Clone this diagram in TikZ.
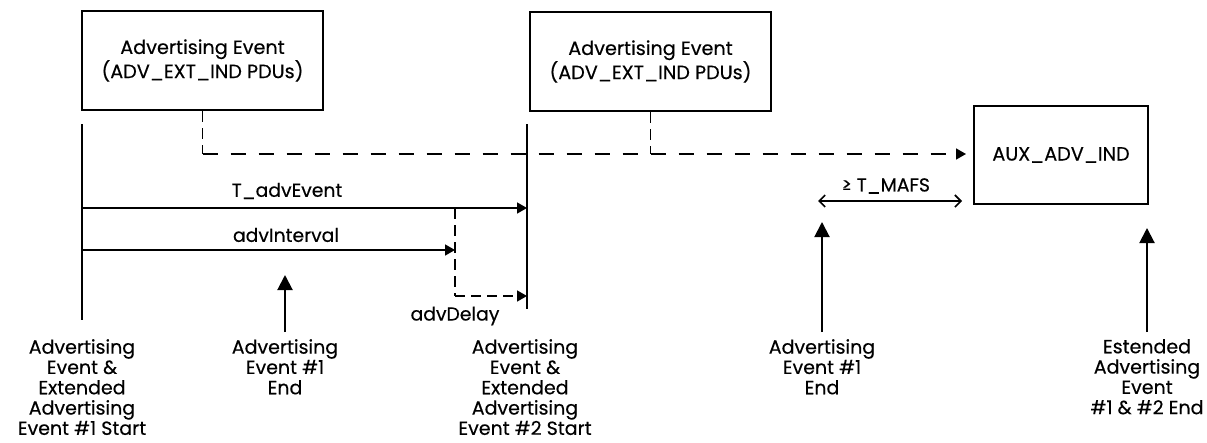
\documentclass[tikz,border=0pt]{standalone}
\usepackage{fontspec}
\setmainfont{Poppins}[FakeBold=0.35]
\usetikzlibrary{arrows.meta}
\begin{document}
\begin{tikzpicture}[x=1pt,y=-1pt,
  evbox/.style={draw,line width=2pt,minimum width=241pt,minimum height=99pt,
    align=center,inner sep=0pt,font=\fontsize{19.2}{23}\selectfont},
  auxbox/.style={evbox,minimum width=174pt,minimum height=98pt},
  lbl/.style={inner sep=0pt,font=\fontsize{18.8}{20}\selectfont},
  evlbl/.style={lbl,align=center,anchor=north,font=\fontsize{19}{20.3}\selectfont},
  timeline/.style={line width=1.4pt},
  span/.style={line width=1.6pt,-{Triangle[length=10pt,width=11pt]}},
  dashspan/.style={span,dash pattern=on 15pt off 13pt},
  vdash/.style={line width=1.6pt,dash pattern=on 11pt off 6pt},
  marker/.style={line width=2pt,-{Triangle[length=15pt,width=15pt]}},
  gap/.style={line width=1.6pt,{Straight Barb[length=6pt,width=12pt]}-{Straight Barb[length=6pt,width=12pt]}}
]
\useasboundingbox (0,0) rectangle (1207,442);

% advertising events and the auxiliary packet
\node[evbox] (ev1) at (202.5,60.5) {Advertising Event\\(ADV\_EXT\_IND PDUs)};
\node[evbox] (ev2) at (650.5,61.5) {Advertising Event\\(ADV\_EXT\_IND PDUs)};
\node[auxbox] (aux) at (1061,155) {AUX\_ADV\_IND};

% timeline marks
\coordinate (s1top) at (82,124);
\coordinate (s1bot) at (82,320);
\coordinate (s2top) at (527,124);
\coordinate (s2bot) at (527,309);
\draw[timeline] (s1top) -- (s1bot);
\draw[timeline] (s2top) -- (s2bot);

% auxiliary pointer from both events
\coordinate (bend1) at (202.5,154);
\coordinate (join2) at (650.5,154);
\draw[vdash] (ev1.south) -- (bend1);
\draw[dashspan] (bend1) -- ([xshift=-7pt]aux.west |- bend1);
\draw[vdash,line width=1.1pt] (ev2.south) -- (join2);

% interval arrows
\coordinate (tev0) at (82,208);
\coordinate (tev1) at (527,208);
\coordinate (int0) at (82,250);
\coordinate (int1) at (455,250);
\coordinate (dl0) at (455,208);
\coordinate (dl1) at (455,296);
\coordinate (dl2) at (527,296);
\draw[span] (tev0) -- (tev1);
\draw[span] (int0) -- (int1);
\draw[vdash] (dl0) -- (dl1);
\draw[dashspan,dash pattern=on 10pt off 6pt] (dl1) -- (dl2);
\node[lbl] (ltev) at (287,191) {T\_advEvent};
\node[lbl] (lint) at (286,235) {advInterval};
\node[lbl] (ldl) at (455,316) {advDelay};

% minimum auxiliary frame spacing
\coordinate (maf0) at (818,201);
\coordinate (maf1) at (962,201);
\draw[gap] (maf0) -- (maf1);
\node[lbl] (lmaf) at (886,186) {≥ T\_MAFS};

% event labels
\node[evlbl] (e1) at (82,339) {Advertising\\Event \&\\Extended\\Advertising\\Event \#1 Start};
\node[evlbl] (e2) at (285,339) {Advertising\\Event \#1\\End};
\node[evlbl] (e3) at (525,339) {Advertising\\Event \&\\Extended\\Advertising\\Event \#2 Start};
\node[evlbl] (e4) at (822,339) {Advertising\\Event \#1\\End};
\node[evlbl] (e5) at (1147,339) {Estended\\Advertising\\Event\\\#1 \& \#2 End};

% end markers
\coordinate (m2) at (285,275);
\coordinate (m4) at (822,222);
\coordinate (m5) at (1147,228);
\draw[marker] ([yshift=7pt]e2.north) -- (m2);
\draw[marker] ([yshift=7pt]e4.north) -- (m4);
\draw[marker] ([yshift=7pt]e5.north) -- (m5);
\end{tikzpicture}
\end{document}
